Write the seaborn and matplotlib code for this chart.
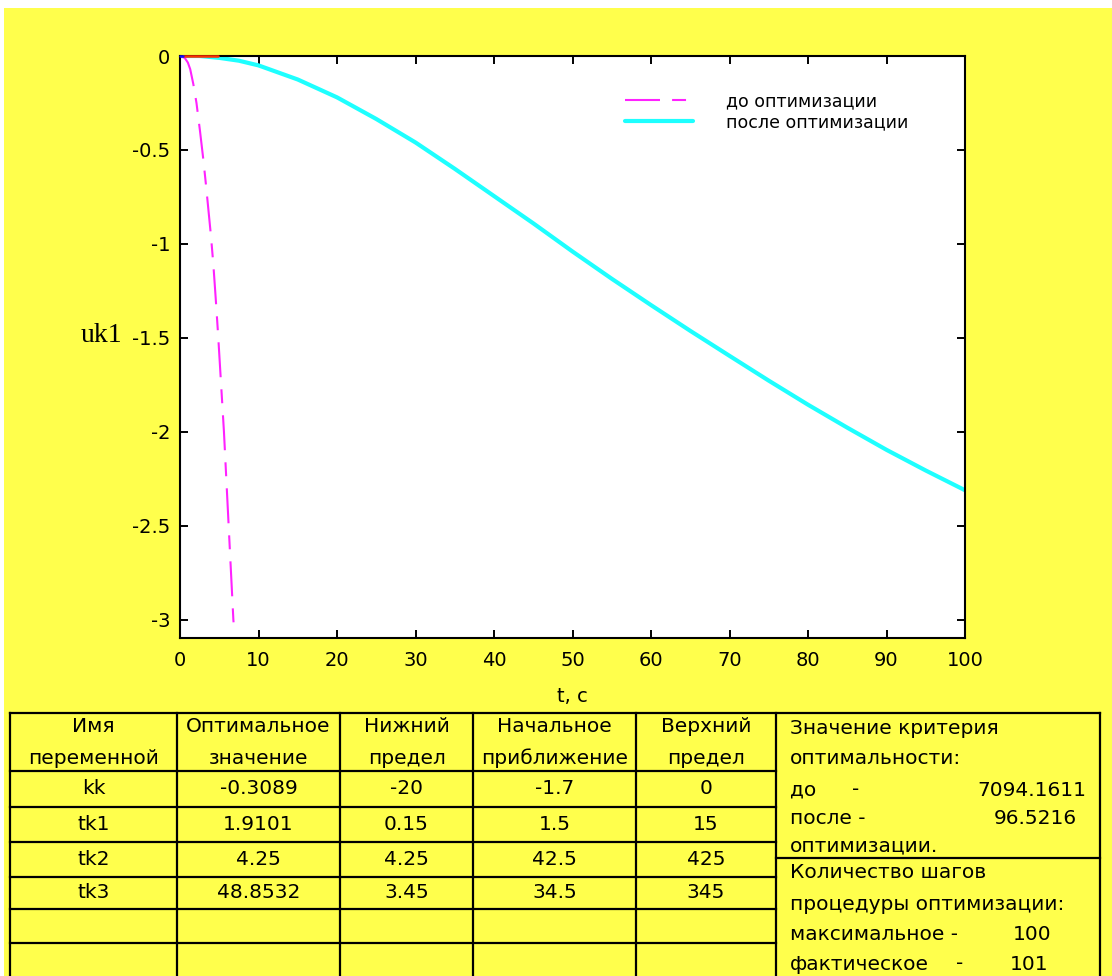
import matplotlib
matplotlib.use("Agg")
import matplotlib.pyplot as plt
from matplotlib.lines import Line2D
from matplotlib.patches import Rectangle
import pandas as pd
import seaborn as sns

# ---- curves uk1(t) ----
t_before = [0, 0.6, 1.0, 1.3, 1.7, 2.1, 2.55, 2.97, 3.27, 3.6, 3.95, 4.25, 4.55, 4.85, 5.6, 6.2, 6.8, 6.9]
uk1_before = [0, -0.01, -0.035, -0.07, -0.15, -0.25, -0.40, -0.55, -0.67, -0.81, -0.96, -1.11, -1.29,
              -1.48, -2.0, -2.5, -3.0, -3.05]

t_after = [0, 2.5, 5, 7.5, 10, 15, 20, 25, 30, 35, 40, 45, 50, 55, 60, 65, 70, 75, 80, 85, 90, 95, 100]
uk1_after = [0, 0, -0.01, -0.025, -0.05, -0.125, -0.22, -0.335, -0.46, -0.6, -0.745, -0.89, -1.04,
             -1.185, -1.325, -1.462, -1.595, -1.727, -1.855, -1.977, -2.095, -2.205, -2.31]

t_ref = [0.4, 4.8]
uk1_ref = [0, 0]
t_start = [0, 0.4]
uk1_start = [0, 0]

series_labels = ["до оптимизации", "после оптимизации"]
x_ticks = [0, 10, 20, 30, 40, 50, 60, 70, 80, 90, 100]
y_ticks = [0, -0.5, -1, -1.5, -2, -2.5, -3]
y_tick_labels = ["0", "-0.5", "-1", "-1.5", "-2", "-2.5", "-3"]

# ---- optimisation table ----
header_top = ["Имя", "Оптимальное", "Нижний", "Начальное", "Верхний"]
header_bottom = ["переменной", "значение", "предел", "приближение", "предел"]
var_names = ["kk", "tk1", "tk2", "tk3"]
opt_values = ["-0.3089", "1.9101", "4.25", "48.8532"]
lower_limits = ["-20", "0.15", "4.25", "3.45"]
initial_values = ["-1.7", "1.5", "42.5", "34.5"]
upper_limits = ["0", "15", "425", "345"]
criterion_before = "7094.1611"
criterion_after = "96.5216"
steps_max = "100"
steps_actual = "101"

W, H = 1112, 976
YELLOW = "#ffff4c"

sns.set_style("ticks")
plt.rcParams["font.family"] = ["DejaVu Sans"]
plt.rcParams["axes.unicode_minus"] = False
plt.rcParams["text.color"] = "black"
plt.rcParams["axes.labelcolor"] = "black"

fig = plt.figure(figsize=(W / 100, H / 100), dpi=100)
fig.patch.set_facecolor("white")


def fx(px):
    return px / W


def fy(py):
    return 1 - py / H


fig.add_artist(Rectangle((fx(4), 0), 1 - fx(4), fy(8), transform=fig.transFigure,
                         facecolor=YELLOW, edgecolor="none", zorder=-10))

ax = fig.add_axes([fx(180), fy(638), fx(965) - fx(180), fy(56) - fy(638)])
ax.set_facecolor("white")

df_before = pd.DataFrame({"t": t_before, "uk1": uk1_before})
df_after = pd.DataFrame({"t": t_after, "uk1": uk1_after})

sns.lineplot(data=df_after, x="t", y="uk1", color="#1effff", linewidth=3.0, ax=ax,
             legend=False, zorder=2)
line_after = ax.lines[-1]
sns.lineplot(data=df_before, x="t", y="uk1", color="#ff22ff", linewidth=1.5, ax=ax,
             legend=False, zorder=2)
line_before = ax.lines[-1]
line_before.set_dashes([16.8, 5.8, 6.7, 5.8])
sns.lineplot(x=t_ref, y=uk1_ref, color="#ff3000", linewidth=1.8, ax=ax, legend=False)
ax.lines[-1].set_zorder(4)
ax.lines[-1].set_clip_on(False)
sns.lineplot(x=t_start, y=uk1_start, color="#1010ff", linewidth=1.8, ax=ax, legend=False)
ax.lines[-1].set_zorder(4)
ax.lines[-1].set_clip_on(False)

ax.set_xlim(0, 100)
ax.set_ylim(-3.096, 0)
ax.set_xticks(x_ticks)
ax.set_yticks(y_ticks)
ax.set_yticklabels(y_tick_labels)
ax.tick_params(direction="in", length=6, width=1.4, top=True, right=True,
               labelsize=14, colors="black", pad=7)
ax.tick_params(axis="x", pad=9)
for s in ax.spines.values():
    s.set_linewidth(1.5)
    s.set_color("black")

ax.set_xlabel("t, c", fontsize=14, va="top", color="black")
ax.xaxis.set_label_coords(0.5, -0.084)
ax.set_ylabel("uk1", fontsize=20, family="Liberation Serif", rotation=0,
              ha="right", va="center", color="black")
ax.yaxis.set_label_coords(-0.074, 0.52)

leg = ax.legend([line_before, line_after], series_labels, loc="upper left",
                bbox_to_anchor=(0.567, 0.938), frameon=False, fontsize=12.5,
                handlelength=3.9, handletextpad=1.9, labelspacing=0.2,
                borderpad=0, borderaxespad=0, labelcolor="black")

# ---- table grid ----
LW = 1.6
col_x = [10, 177, 340, 473, 636, 776, 1100]
row_y = [713, 771, 807, 842, 877, 909, 943]


def hline(x0, x1, y):
    fig.add_artist(Line2D([fx(x0), fx(x1)], [fy(y), fy(y)], transform=fig.transFigure,
                          color="black", linewidth=LW, solid_capstyle="projecting"))


def vline(x, y0, y1):
    fig.add_artist(Line2D([fx(x), fx(x)], [fy(y0), fy(y1)], transform=fig.transFigure,
                          color="black", linewidth=LW, solid_capstyle="projecting"))


hline(col_x[0], col_x[-1], row_y[0])
for y in row_y[1:]:
    hline(col_x[0], col_x[5], y)
hline(col_x[5], col_x[-1], 858)
for x in col_x:
    vline(x, row_y[0], H + 2)

TFS = 14.5


def cell_text(px, py, s, ha="center"):
    fig.text(fx(px), fy(py), s, ha=ha, va="center", fontsize=TFS, color="black")


for i in range(5):
    cx = (col_x[i] + col_x[i + 1]) / 2
    cell_text(cx, 727, header_top[i])
    cell_text(cx, 758, header_bottom[i])

columns = [var_names, opt_values, lower_limits, initial_values, upper_limits]
for r in range(len(var_names)):
    cy = (row_y[r + 1] + row_y[r + 2]) / 2
    for c, col in enumerate(columns):
        cx = (col_x[c] + col_x[c + 1]) / 2
        cell_text(cx, cy, col[r])

tx = 790
cell_text(tx, 728, "Значение критерия", ha="left")
cell_text(tx, 759, "оптимальности:", ha="left")
cell_text(tx, 790, "до", ha="left")
cell_text(852, 790, "-", ha="left")
cell_text(1086, 790, criterion_before, ha="right")
cell_text(tx, 818, "после -", ha="left")
cell_text(1077, 818, criterion_after, ha="right")
cell_text(tx, 846, "оптимизации.", ha="left")
cell_text(tx, 872, "Количество шагов", ha="left")
cell_text(tx, 905, "процедуры оптимизации:", ha="left")
cell_text(tx, 935, "максимальное -", ha="left")
cell_text(1051, 935, steps_max, ha="right")
cell_text(tx, 964, "фактическое", ha="left")
cell_text(956, 964, "-", ha="left")
cell_text(1048, 964, steps_actual, ha="right")

fig.savefig("out.png", dpi=100)
